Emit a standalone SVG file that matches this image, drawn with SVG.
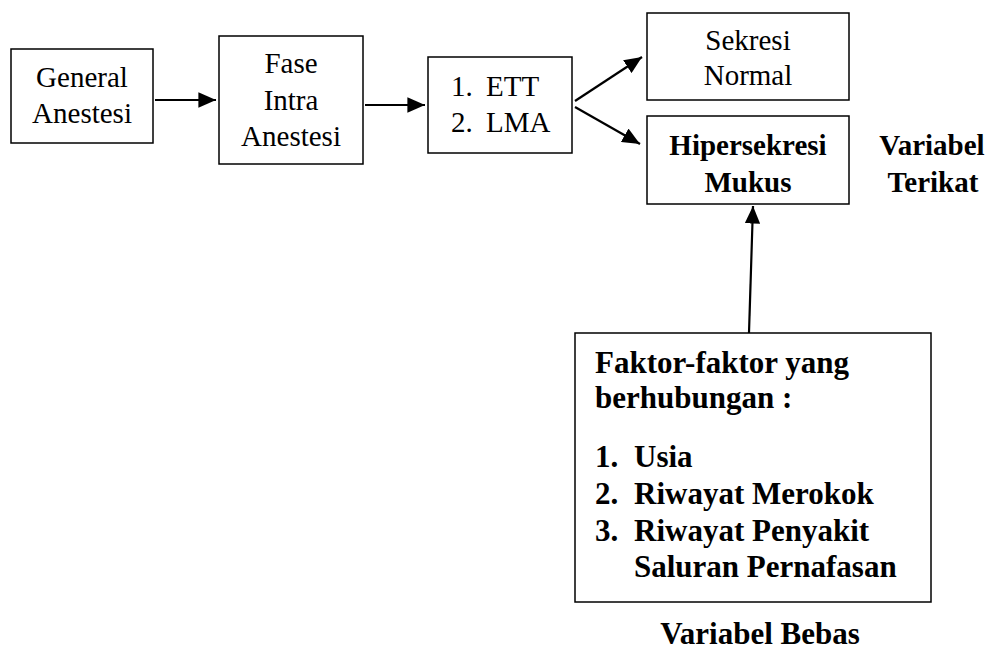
<svg xmlns="http://www.w3.org/2000/svg" width="989" height="650" viewBox="0 0 989 650">
<defs>
<marker id="ah" viewBox="0 0 10 10" refX="10" refY="5" markerWidth="8" markerHeight="7" markerUnits="strokeWidth" orient="auto" preserveAspectRatio="none"><path d="M0,0 L10,5 L0,10 Z" fill="#000"/></marker>
</defs>
<style>
.box{fill:#fff;stroke:#000;stroke-width:1.5}
.c{text-anchor:middle}
.edge{stroke:#000;stroke-width:2.2;fill:none;marker-end:url(#ah)}
</style>
<rect width="989" height="650" fill="#fff"/>
<g font-family="'Liberation Serif', 'Times New Roman', serif" font-size="29" fill="#000">
<g id="n1"><rect class="box" x="11" y="49" width="142" height="94"/>
<text class="c" x="82" y="87">General</text><text class="c" x="82" y="123">Anestesi</text></g>
<g id="n2"><rect class="box" x="219" y="36" width="144" height="128"/>
<text class="c" x="291" y="73">Fase</text><text class="c" x="291" y="110">Intra</text><text class="c" x="291" y="146">Anestesi</text></g>
<g id="n3"><rect class="box" x="428" y="57" width="144" height="96"/>
<text x="451" y="96">1.</text><text x="486" y="96">ETT</text>
<text x="451" y="132">2.</text><text x="486" y="132">LMA</text></g>
<g id="n4"><rect class="box" x="647" y="13" width="202" height="87"/>
<text class="c" x="748" y="50">Sekresi</text><text class="c" x="748" y="85">Normal</text></g>
<g id="n5" font-weight="bold"><rect class="box" x="647" y="116" width="202" height="88"/>
<text class="c" x="748" y="155">Hipersekresi</text><text class="c" x="748" y="192">Mukus</text></g>
<g id="lbl1" font-weight="bold"><text class="c" x="932" y="155">Variabel</text><text class="c" x="933" y="192">Terikat</text></g>
<g id="n6"><rect class="box" x="575" y="333" width="356" height="269"/>
<g font-weight="bold" font-size="31">
<text x="595" y="373">Faktor-faktor yang</text>
<text x="595" y="408">berhubungan :</text>
<text x="595" y="467">1.</text><text x="634" y="467">Usia</text>
<text x="595" y="504">2.</text><text x="634" y="504">Riwayat Merokok</text>
<text x="595" y="541">3.</text><text x="634" y="541">Riwayat Penyakit</text>
<text x="634" y="577">Saluran Pernafasan</text>
</g></g>
<g id="lbl2" font-weight="bold" font-size="31"><text class="c" x="760" y="644">Variabel Bebas</text></g>
</g>
<g id="edges">
<line class="edge" x1="155" y1="100" x2="216" y2="100"/>
<line class="edge" x1="365" y1="105" x2="425" y2="105"/>
<line class="edge" x1="575" y1="101" x2="642" y2="57"/>
<line class="edge" x1="575" y1="107" x2="640" y2="144"/>
<line class="edge" x1="749" y1="333" x2="753" y2="206"/>
</g>
</svg>
